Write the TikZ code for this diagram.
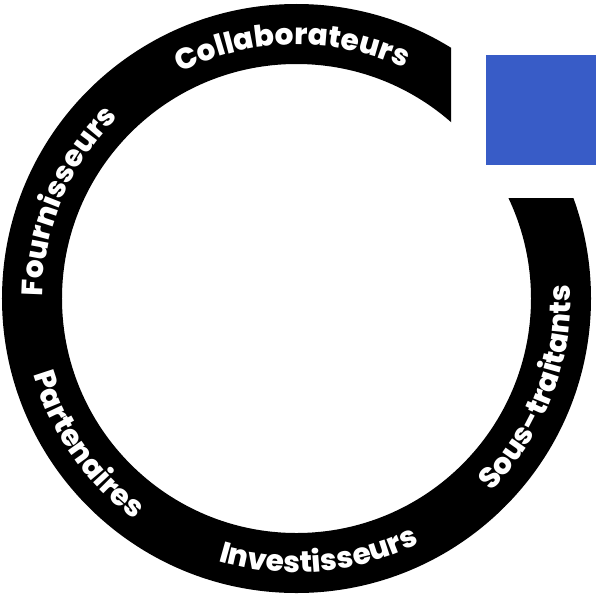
\documentclass[tikz,border=0pt]{standalone}
\usepackage{fontspec}
\setmainfont{Poppins}[BoldFont={Poppins ExtraBold}]
\usepackage{xcolor}
\usetikzlibrary{calc,decorations.text}
\definecolor{squareblue}{HTML}{385CC7}
\newcommand\ringfont{\fontsize{29.5}{32}\selectfont\bfseries}
\tikzset{
	cwtext/.style={decorate,decoration={text along path,text align=center,text color=white,text={|\ringfont|#1}}},
	ccwtext/.style={decorate,decoration={text along path,text align=center,text color=white,text={|\ringfont|#1}}},
}

\begin{document}
\begin{tikzpicture}[x=1pt,y=1pt]
			\useasboundingbox (-296.5,-296.5) rectangle (299.5,298.5);
			\coordinate (o) at (0,0);
			\coordinate (sq1) at (189.5,133.5);
			\coordinate (sq2) at (299.5,243.5);
			%
			\begin{scope}
				\clip (-296.5,-296.5) -- (299.5,-296.5) -- (299.5,100.5) -- (154.5,100.5)
					-- (154.5,298.5) -- (-296.5,298.5) -- cycle;
				\fill[black,even odd rule] (o) circle[radius=294.5] (o) circle[radius=234.5];
			\end{scope}
			\fill[squareblue] (sq1) rectangle (sq2);
			%
			\path[cwtext=Collaborateurs] ($(o)+(131:254)$) arc[start angle=131,end angle=51,radius=254];
			\path[cwtext=Fournisseurs] ($(o)+(197:254)$) arc[start angle=197,end angle=117,radius=254];
			\path[ccwtext=Partenaires] ($(o)+(175:274)$) arc[start angle=175,end angle=255,radius=274];
			\path[ccwtext=Investisseurs] ($(o)+(235:274)$) arc[start angle=235,end angle=315,radius=274];
			\path[ccwtext=Sous-traitants] ($(o)+(299:274)$) arc[start angle=299,end angle=379,radius=274];
\end{tikzpicture}
\end{document}
